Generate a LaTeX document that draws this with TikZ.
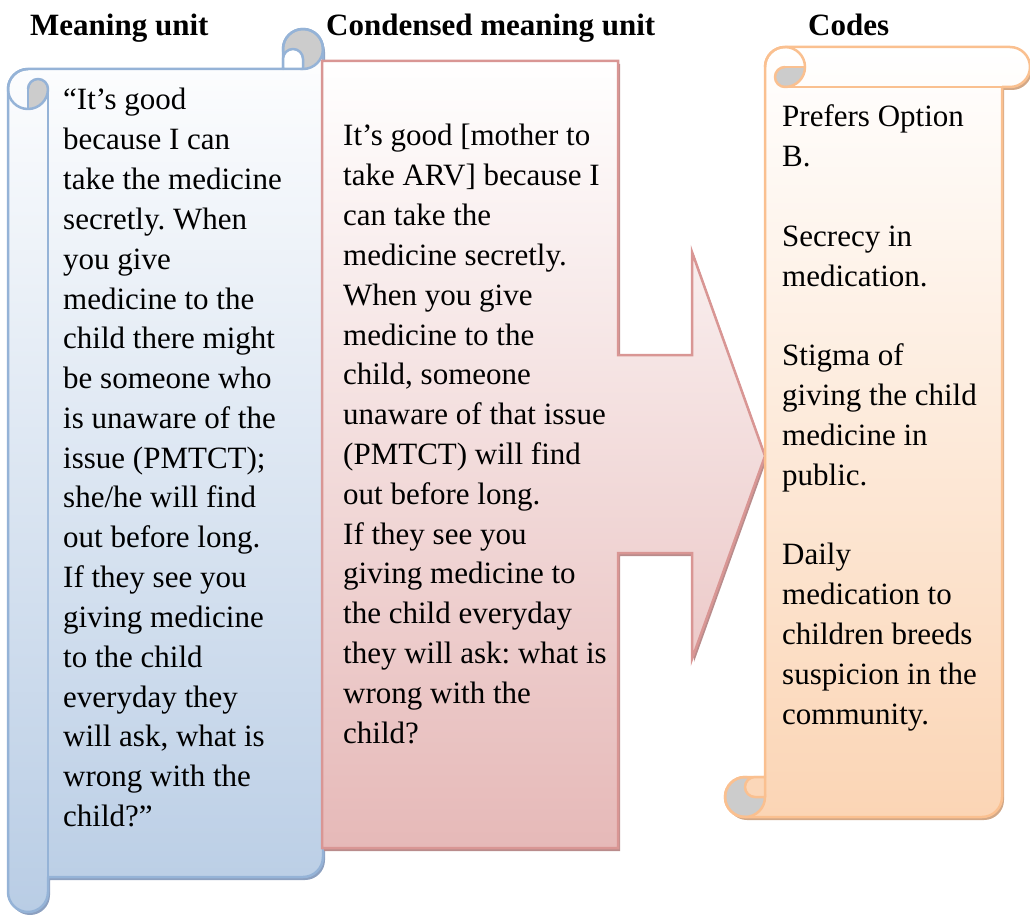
\documentclass[tikz,border=0pt]{standalone}
\usepackage{fontspec}
\setmainfont{Liberation Serif}
\frenchspacing
\definecolor{bline}{RGB}{149,179,215}
\definecolor{bfill}{RGB}{185,205,229}
\definecolor{bshadow}{RGB}{140,160,192}
\definecolor{pline}{RGB}{217,150,148}
\definecolor{pfill}{RGB}{230,185,184}
\definecolor{pshadow}{RGB}{185,140,140}
\definecolor{oline}{RGB}{250,192,144}
\definecolor{ofill}{RGB}{251,213,181}
\definecolor{oshadow}{RGB}{210,168,135}
\definecolor{curlgrey}{RGB}{204,204,204}
\newcommand{\bodyfnt}{\fontsize{31}{39.8}\selectfont\frenchspacing\spaceskip=0pt\xspaceskip=0pt\relax}
\tikzset{
  heading/.style={anchor=base west, inner sep=0pt, font=\fontsize{31}{37}\selectfont\bfseries},
  bodytext/.style={anchor=base west, inner sep=0pt, align=left, text width=#1, font=\fontsize{31}{39.8}\selectfont},
  scrollline/.style={line width=2.5pt, line join=round},
}
\begin{document}
\begin{tikzpicture}[x=1pt,y=-1pt]
\useasboundingbox (0,0) rectangle (1030,915);
% ---------- blue scroll ----------
\def\bluesil{(28,69) -- (283,69) -- (283,49) arc[start angle=180,end angle=0,radius=20pt] -- (323,857) arc[start angle=0,end angle=-90,radius=20pt] -- (48,877) -- (48,892) arc[start angle=0,end angle=-180,radius=20pt] -- (8,89) arc[start angle=180,end angle=90,radius=20pt] -- cycle}
\fill[bshadow, shift={(2,3)}] \bluesil;
\shade[top color=white, bottom color=bfill] \bluesil;
\fill[curlgrey] (303,49) circle[radius=20pt];
\fill[curlgrey] (28,89) -- (28,109) arc[start angle=270,end angle=360,radius=20pt] arc[start angle=0,end angle=180,radius=10pt] -- cycle;
\draw[scrollline,bline] \bluesil;
\draw[scrollline,bline] (303,49) circle[radius=20pt];
\filldraw[scrollline,draw=bline,fill=white] (283,69) -- (283,59) arc[start angle=180,end angle=0,radius=10pt] -- (303,69) -- cycle;
\draw[scrollline,bline] (48,877) -- (48,89);
\draw[scrollline,bline] (28,69) arc[start angle=90,end angle=360,radius=20pt];
\draw[scrollline,bline] (28,89) -- (28,109);
\draw[scrollline,bline] (28,89) arc[start angle=180,end angle=0,radius=10pt];
% ---------- pink arrow ----------
\def\pinksil{(322,61) -- (618,61) -- (618,355) -- (692,355) -- (692,252) -- (765,456) -- (692,659) -- (692,553) -- (618,553) -- (618,848) -- (322,848) -- cycle}
\fill[pshadow, shift={(2,3)}] \pinksil;
\shade[top color=white, bottom color=pfill] \pinksil;
\draw[line width=2.5pt, pline, line join=miter] \pinksil;
% ---------- orange scroll ----------
\def\orsil{(765,67) -- (765,777) -- (745,777) arc[start angle=90,end angle=270,radius=20pt] -- (982,817) arc[start angle=270,end angle=360,radius=20pt] -- (1002,87) -- (1010,87) arc[start angle=270,end angle=450,radius=20pt] -- (785,47) arc[start angle=90,end angle=180,radius=20pt] -- cycle}
\fill[oshadow, shift={(2,3)}] \orsil;
\shade[top color=white, bottom color=ofill] \orsil;
\fill[curlgrey] (745,797) circle[radius=20pt];
\fill[curlgrey] (785,67) -- (805,67) arc[start angle=0,end angle=-90,radius=20pt] arc[start angle=-90,end angle=-270,radius=10pt] -- cycle;
\draw[scrollline,oline] \orsil;
\draw[scrollline,oline] (745,797) circle[radius=20pt];
\filldraw[scrollline,draw=oline,fill=ofill!95!white] (765,777) -- (755,777) arc[start angle=90,end angle=270,radius=10pt] -- (765,797) -- cycle;
\draw[scrollline,oline] (1010,87) -- (785,87);
\draw[scrollline,oline] (765,67) arc[start angle=180,end angle=-90,radius=20pt];
\draw[scrollline,oline] (785,67) -- (805,67);
\draw[scrollline,oline] (785,67) arc[start angle=90,end angle=270,radius=10pt];
% ---------- headings ----------
\node[heading] (h1) at (30,36) {Meaning unit};
\node[heading] (h2) at (326,36) {Condensed meaning unit};
\node[heading] (h3) at (808,36) {Codes};
% ---------- texts ----------
\node[bodytext=260pt] (t1) at (63,110) {\bodyfnt “It’s good\\because I can\\take the medicine\\secretly. When\\you give\\medicine to the\\child there might\\be someone who\\is unaware of the\\issue (PMTCT);\\she/he will find\\out before long.\\If they see you\\giving medicine\\to the child\\everyday they\\will ask, what is\\wrong with the\\child?”\par};
\node[bodytext=285pt] (t2) at (343,146) {\bodyfnt It’s good [mother to\\take ARV] because I\\can take the\\medicine secretly.\\When you give\\medicine to the\\child, someone\\unaware of that issue\\(PMTCT) will find\\out before long.\\If they see you\\giving medicine to\\the child everyday\\they will ask: what is\\wrong with the\\child?\par};
\node[bodytext=240pt] (t3) at (782,127) {\bodyfnt Prefers Option\\B.\\[39.8pt]Secrecy in\\medication.\\[39.8pt]Stigma of\\giving the child\\medicine in\\public.\\[39.8pt]Daily\\medication to\\children breeds\\suspicion in the\\community.\par};
\end{tikzpicture}
\end{document}
